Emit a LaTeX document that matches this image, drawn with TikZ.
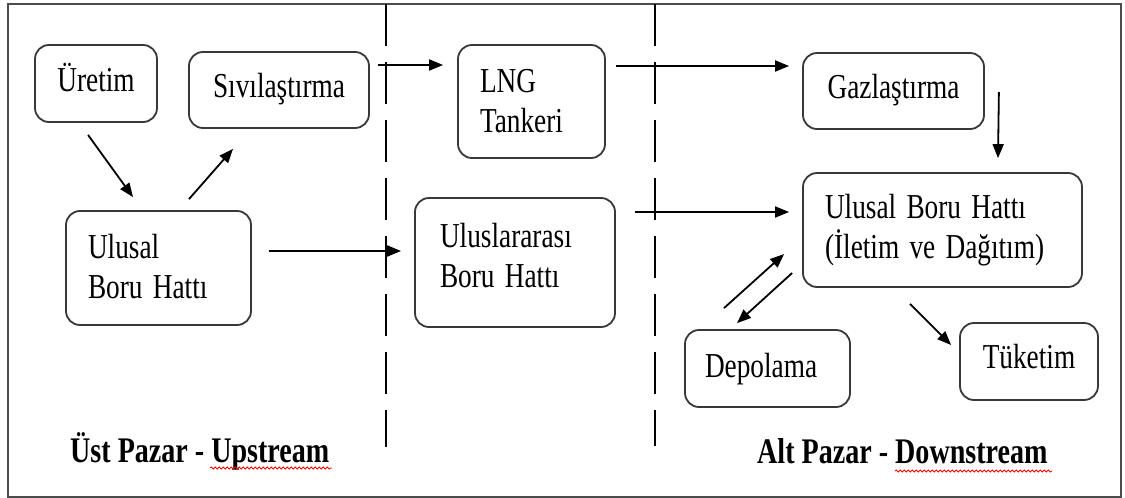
\documentclass[tikz,border=0pt]{standalone}
\usepackage{fontspec}
\setmainfont{Liberation Serif}[FakeStretch=0.78,WordSpace=1.5]
\newfontfamily\lblfont{Liberation Serif Bold}[FakeStretch=0.78]
\usetikzlibrary{arrows.meta,calc,decorations.pathmorphing}
\begin{document}
\begin{tikzpicture}[x=1pt,y=-1pt,
  box/.style={draw=black!78, line width=1.8pt, rounded corners=14pt, inner ysep=0pt,
    font=\fontsize{35}{40}\selectfont},
  arr/.style={line width=1.8pt, -{Triangle[length=14pt,width=11pt]}},
  sep/.style={line width=1.6pt, dash pattern=on 42pt off 16pt},
  lbl/.style={font=\lblfont\fontsize{36}{40}\selectfont, anchor=base west, inner sep=0pt},
  spell/.style={red, line width=0.8pt, decorate,
    decoration={snake, amplitude=1.1pt, segment length=4pt}}]
\useasboundingbox (0,0) rectangle (1125,498);
\draw[line width=1.5pt, black!70] (8,4) rectangle (1121,497);

% separators
\draw[sep] (386,4) -- (386,447);
\draw[sep] (655,4) -- (655,446);

% boxes
\node[box, minimum width=122pt, minimum height=77pt, text width=110pt, inner xsep=6pt,
  align=flush center, text height=32.5pt, text depth=17.5pt] (ure) at (96,83.5) {Üretim};
\node[box, minimum width=180pt, minimum height=76pt, text width=168pt, inner xsep=6pt,
  align=flush center, text height=32pt, text depth=18pt] (siv) at (279,90) {Sıvılaştırma};
\node[box, minimum width=185pt, minimum height=114pt, text width=141pt, inner xsep=22pt,
  align=flush left, text height=15pt, text depth=35pt] (ulL) at (158.5,268) {Ulusal\\Boru Hattı};
\node[box, minimum width=147pt, minimum height=113pt, text width=103pt, inner xsep=22pt,
  align=flush left, text height=15.5pt, text depth=34.5pt] (lng) at (531.5,101.5) {LNG\\Tankeri};
\node[box, minimum width=200pt, minimum height=129pt, text width=150pt, inner xsep=25pt,
  align=flush left, text height=9.5pt, text depth=40.5pt] (ulint) at (515,262.5) {Uluslararası\\Boru Hattı};
\node[box, minimum width=181pt, minimum height=76pt, text width=169pt, inner xsep=6pt,
  align=flush center, text height=32pt, text depth=18pt] (gaz) at (893.5,91) {Gazlaştırma};
\node[box, minimum width=279pt, minimum height=114pt, text width=235pt, inner xsep=22pt,
  align=flush left, text height=13pt, text depth=37pt] (ulR) at (942.5,230) {Ulusal Boru Hattı\\(İletim ve Dağıtım)};
\node[box, minimum width=165pt, minimum height=77pt, text width=125pt, inner xsep=20pt,
  align=flush left, text height=33.5pt, text depth=16.5pt] (dep) at (767.5,368.5) {Depolama};
\node[box, minimum width=138pt, minimum height=77pt, text width=126pt, inner xsep=6pt,
  align=flush center, text height=31.5pt, text depth=18.5pt] (tuk) at (1029,361.5) {Tüketim};

% connectors
\draw[arr] ($(ure.south)+(-8,12)$) -- ($(ulL.north)+(-25.5,-13)$);
\draw[arr] ($(ulL.north)+(30.5,-11)$) -- ($(siv.south)+(-46,20)$);
\draw[arr] ($(siv.east)+(8,-25)$) -- ($(lng.west)+(-14,-36.5)$);
\draw[arr] ($(lng.east)+(10,-35.5)$) -- ($(gaz.west)+(-13,-25)$);
\draw[arr] ($(ulL.east)+(17,-17)$) -- ($(ulint.west)+(-13,-11.5)$);
\draw[arr] ($(ulint.east)+(19,-50.5)$) -- ($(ulR.west)+(-13,-18)$);
\draw[arr] ($(gaz.east)+(14,1)$) -- ($(ulR.north)+(55.5,-14)$);
\draw[arr] ($(dep.north)+(-43.5,-21)$) -- ($(ulR.west)+(-18,24)$);
\draw[arr] ($(ulR.west)+(-10,43)$) -- ($(dep.north)+(-30.5,-6)$);
\draw[arr] ($(ulR.south)+(-32.5,16)$) -- ($(tuk.west)+(-8,-16.5)$);

% section labels
\node[lbl] (up) at (70,462) {Üst Pazar - Upstream};
\node[lbl] (down) at (757,463) {Alt Pazar - Downstream};
\draw[spell] (210,468) -- (332,468);
\draw[spell] (895,471) -- (1052,471);
\end{tikzpicture}
\end{document}
